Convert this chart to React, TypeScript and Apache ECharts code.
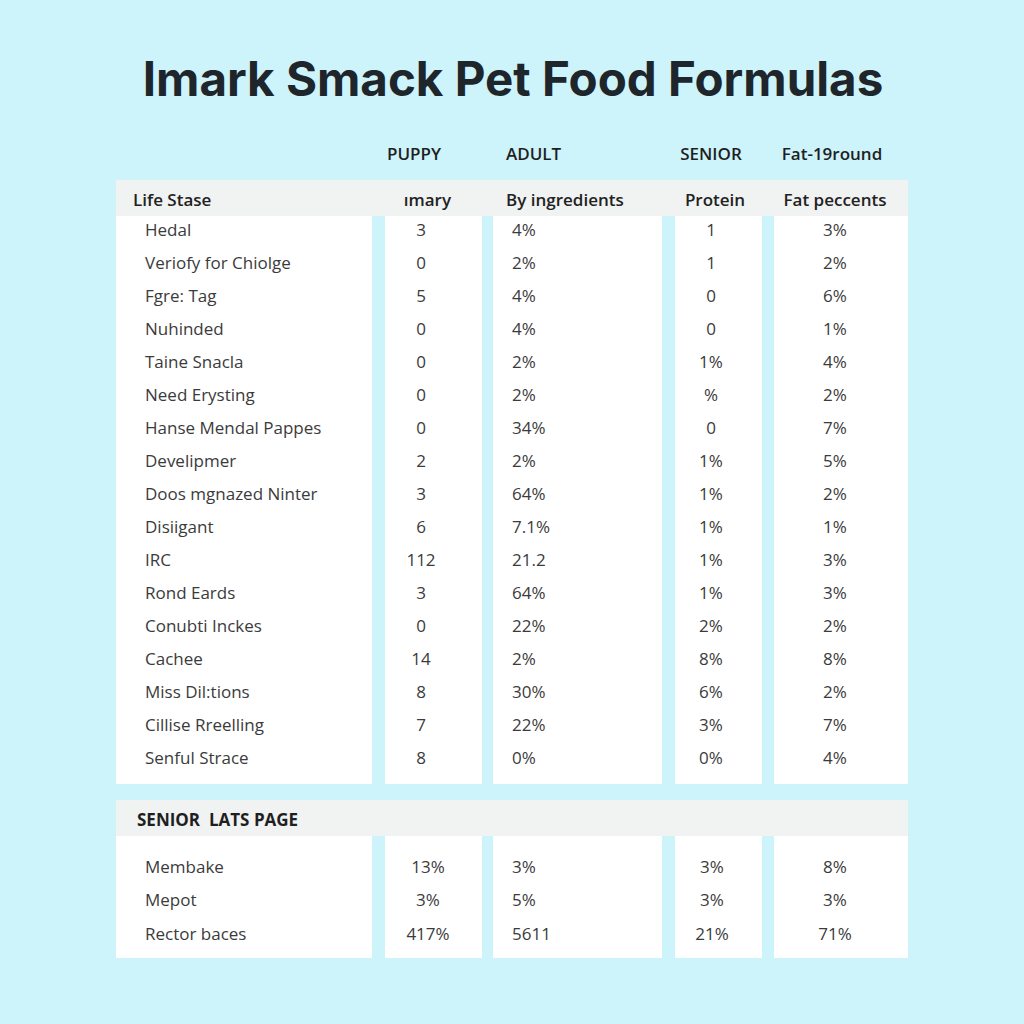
import React, { useEffect, useRef } from "react";
import * as echarts from "echarts";

const titleText = "Imark Smack Pet Food Formulas";
const topHeaders = ["PUPPY", "ADULT", "SENIOR", "Fat-19round"];
const subHeaders = ["Life Stase", "ımary", "By ingredients", "Protein", "Fat peccents"];

const rowNames = [
  "Hedal", "Veriofy for Chiolge", "Fgre: Tag", "Nuhinded", "Taine Snacla",
  "Need Erysting", "Hanse Mendal Pappes", "Develipmer", "Doos mgnazed Ninter",
  "Disiigant", "IRC", "Rond Eards", "Conubti Inckes", "Cachee",
  "Miss Dil:tions", "Cillise Rreelling", "Senful Strace",
];
const puppyVals = ["3", "0", "5", "0", "0", "0", "0", "2", "3", "6", "112", "3", "0", "14", "8", "7", "8"];
const adultVals = ["4%", "2%", "4%", "4%", "2%", "2%", "34%", "2%", "64%", "7.1%", "21.2", "64%", "22%", "2%", "30%", "22%", "0%"];
const seniorVals = ["1", "1", "0", "0", "1%", "%", "0", "1%", "1%", "1%", "1%", "1%", "2%", "8%", "6%", "3%", "0%"];
const fatVals = ["3%", "2%", "6%", "1%", "4%", "2%", "7%", "5%", "2%", "1%", "3%", "3%", "2%", "8%", "2%", "7%", "4%"];

const sectionTitle = "SENIOR  LATS PAGE";
const seniorRowNames = ["Membake", "Mepot", "Rector baces"];
const seniorPuppy = ["13%", "3%", "417%"];
const seniorAdult = ["3%", "5%", "5611"];
const seniorSenior = ["3%", "3%", "21%"];
const seniorFat = ["8%", "3%", "71%"];

export default function App() {
  const ref = useRef<HTMLDivElement>(null);
  useEffect(() => {
    document.body.style.margin = "0";
    const chart = echarts.init(ref.current!, null, { renderer: "svg" });

    const BG = "#cdf3fb";
    const GREY = "#f1f2f2";
    const WHITE = "#ffffff";
    const BODY_FONT = "'Open Sans', 'Noto Sans', sans-serif";
    const colBoxes = [
      [116, 372], [385, 482], [493, 662], [675, 762], [774, 908],
    ];
    const els: any[] = [];
    const txt = (x: number, y: number, t: string, align: string, size: number, weight: any, color: string, family = BODY_FONT) => {
      els.push({
        type: "text", x, y,
        style: { text: t, fill: color, font: `${weight} ${size}px ${family}`, align, verticalAlign: "middle" },
      });
    };

    // background
    els.push({ type: "rect", shape: { x: 0, y: 0, width: 1024, height: 1024 }, style: { fill: BG } });
    // title
    txt(513, 78, titleText, "center", 47.5, 700, "#1e262b", "Inter, 'Open Sans', sans-serif");

    // top headers
    const topPos: [number, string][] = [[414, "center"], [506, "left"], [711, "center"], [832, "center"]];
    topHeaders.forEach((h, i) => txt(topPos[i][0], 153, h, topPos[i][1], 17, 600, "#1f1f1f"));

    // table 1
    const t1Top = 180, hdrH = 36, t1BodyBottom = 784;
    els.push({ type: "rect", shape: { x: 116, y: t1Top, width: 792, height: hdrH }, style: { fill: GREY } });
    colBoxes.forEach(([a, b]) => {
      els.push({ type: "rect", shape: { x: a, y: t1Top + hdrH, width: b - a, height: t1BodyBottom - t1Top - hdrH }, style: { fill: WHITE } });
    });
    const subPos: [number, string][] = [[133, "left"], [451, "right"], [506, "left"], [715, "center"], [835, "center"]];
    subHeaders.forEach((h, i) => txt(subPos[i][0], 199, h, subPos[i][1], 17, 600, "#222222"));

    const rowY0 = 229, rowStep = 33;
    const bodyCol = "#3b3b3b";
    rowNames.forEach((n, i) => {
      const y = rowY0 + i * rowStep;
      txt(145, y, n, "left", 17, 400, bodyCol);
      txt(421, y, puppyVals[i], "center", 17, 400, bodyCol);
      txt(512, y, adultVals[i], "left", 17, 400, bodyCol);
      txt(711, y, seniorVals[i], "center", 17, 400, bodyCol);
      txt(835, y, fatVals[i], "center", 17, 400, bodyCol);
    });

    // table 2
    const t2Top = 800, t2BodyBottom = 958;
    els.push({ type: "rect", shape: { x: 116, y: t2Top, width: 792, height: hdrH }, style: { fill: GREY } });
    colBoxes.forEach(([a, b]) => {
      els.push({ type: "rect", shape: { x: a, y: t2Top + hdrH, width: b - a, height: t2BodyBottom - t2Top - hdrH }, style: { fill: WHITE } });
    });
    txt(137, 819, sectionTitle, "left", 17, 700, "#1f1f1f");
    const r2Y0 = 866, r2Step = 33.5;
    seniorRowNames.forEach((n, i) => {
      const y = r2Y0 + i * r2Step;
      txt(145, y, n, "left", 17, 400, bodyCol);
      txt(428, y, seniorPuppy[i], "center", 17, 400, bodyCol);
      txt(512, y, seniorAdult[i], "left", 17, 400, bodyCol);
      txt(712, y, seniorSenior[i], "center", 17, 400, bodyCol);
      txt(835, y, seniorFat[i], "center", 17, 400, bodyCol);
    });

    chart.setOption({ animation: false, graphic: { elements: els } });
    return () => chart.dispose();
  }, []);
  return <div ref={ref} style={{ width: 1024, height: 1024 }} />;
}
